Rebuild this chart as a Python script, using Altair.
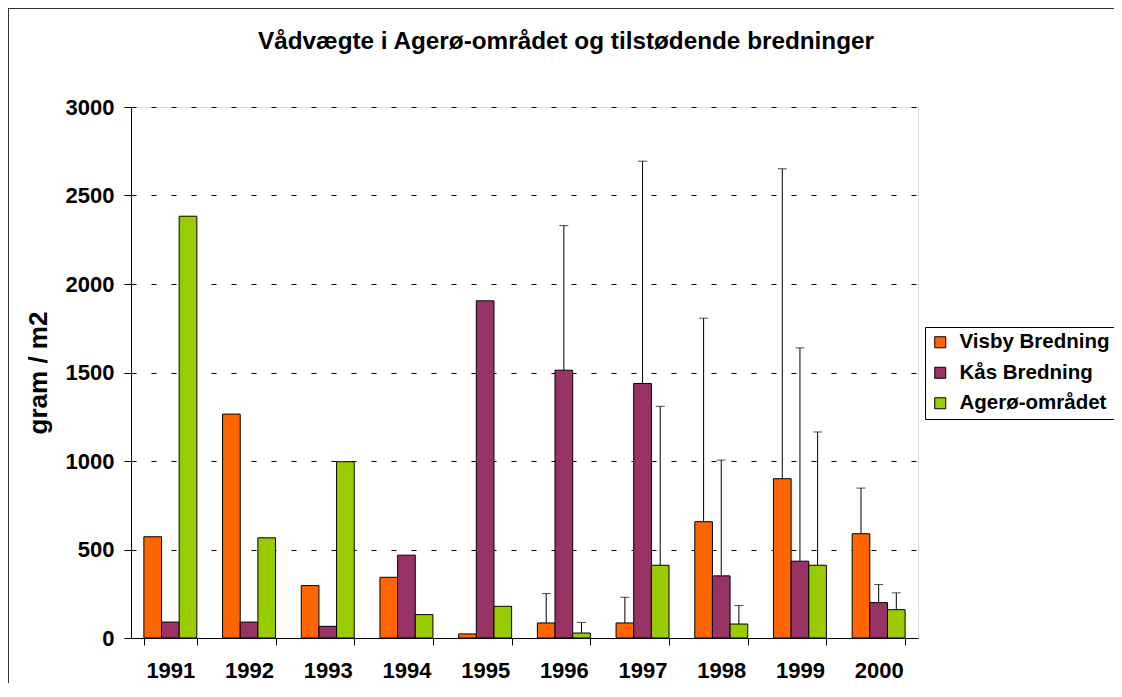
import altair as alt
import pandas as pd

years = ["1991", "1992", "1993", "1994", "1995", "1996", "1997", "1998", "1999", "2000"]
series = ["Visby Bredning", "Kås Bredning", "Agerø-området"]
colors = ["#FF6600", "#993366", "#99CC00"]

visby = [572, 1265, 296, 343, 23, 85, 85, 657, 900, 589]
kas = [90, 90, 66, 468, 1905, 1513, 1438, 351, 434, 200]
agero = [2383, 566, 996, 132, 179, 28, 411, 79, 411, 160]

# upper error amounts (only 1996-2000 have error bars)
visby_sd = [None, None, None, None, None, 166, 145, 1150, 1751, 258]
kas_sd = [None, None, None, None, None, 817, 1256, 654, 1205, 102]
agero_sd = [None, None, None, None, None, 60, 898, 104, 753, 95]

y_ticks = [0, 500, 1000, 1500, 2000, 2500, 3000]
title_text = "Vådvægte i Agerø-området og tilstødende bredninger"

FONT = "Liberation Sans"

rows = []
for s, vals, sds in zip(series, [visby, kas, agero], [visby_sd, kas_sd, agero_sd]):
    for yr, v, sd in zip(years, vals, sds):
        rows.append({"year": yr, "series": s, "value": v,
                     "top": (v + sd) if sd is not None else None})
df = pd.DataFrame(rows)
err = df.dropna(subset=["top"]).copy()

PW, PH = 787, 531
PAD = {"left": 123, "top": 99, "right": 196, "bottom": 45}

x_axis = alt.Axis(
    title=None, labelAngle=0, labelFont=FONT, labelFontSize=22,
    labelFontWeight="bold", labelColor="black", tickBand="extent",
    tickSize=7, tickColor="black", domainColor="black", labelPadding=15,
    grid=False,
)
y_axis = alt.Axis(
    values=y_ticks, title="gram / m2", titleFont=FONT, titleFontSize=26,
    titleFontWeight="bold", titleColor="black", titlePadding=14,
    labelFont=FONT, labelFontSize=22, labelFontWeight="bold",
    labelColor="black", labelPadding=10, tickSize=7, tickColor="black",
    domainColor="black", gridColor="black", gridDash=[5, 15],
    gridWidth=1, format="d",
)
x_scale = alt.Scale(paddingInner=0.327, paddingOuter=0.1635)
y_scale = alt.Scale(domain=[0, 3000], nice=False)
off_scale = alt.Scale(paddingInner=0, paddingOuter=0)

def xenc():
    return alt.X("year:N", sort=years, scale=x_scale, axis=x_axis)

def oenc():
    return alt.XOffset("series:N", sort=series, scale=off_scale)

bars = alt.Chart(df).mark_bar(stroke="black", strokeWidth=1).encode(
    x=xenc(),
    xOffset=oenc(),
    y=alt.Y("value:Q", scale=y_scale, axis=y_axis),
    color=alt.Color(
        "series:N", sort=series,
        scale=alt.Scale(domain=series, range=colors),
        legend=alt.Legend(
            title=None, orient="none", legendX=794, legendY=220,
            strokeColor="black", fillColor="white", padding=5,
            labelFont=FONT, labelFontSize=20.5, labelFontWeight="bold",
            labelColor="black", symbolType="square", symbolSize=121,
            symbolStrokeColor="black", symbolStrokeWidth=1, symbolOpacity=1,
            labelOffset=9, rowPadding=9.5,
        ),
    ),
)

rules = alt.Chart(err).mark_rule(color="black", strokeWidth=1).encode(
    x=xenc(),
    xOffset=oenc(),
    y=alt.Y("value:Q", scale=y_scale, axis=y_axis),
    y2="top:Q",
)

caps = alt.Chart(err).mark_tick(color="black", thickness=1, size=9).encode(
    x=xenc(),
    xOffset=oenc(),
    y=alt.Y("top:Q", scale=y_scale, axis=y_axis),
)

frame = alt.Chart(pd.DataFrame({"a": [0]})).mark_rect(
    fill=None, stroke="#333333", strokeWidth=2, clip=False
).encode(
    x=alt.value(-PAD["left"]), x2=alt.value(PW + PAD["right"] + 20),
    y=alt.value(-PAD["top"]), y2=alt.value(PH + PAD["bottom"] + 20),
)

title = alt.Chart(pd.DataFrame({"t": [title_text]})).mark_text(
    font=FONT, fontSize=24.3, fontWeight="bold", color="black",
    align="center", baseline="alphabetic",
).encode(
    text="t:N",
    x=alt.value(435), y=alt.value(-58),
)

chart = alt.layer(bars, rules, caps, frame, title).properties(
    width=PW, height=PH,
    padding=PAD,
    autosize=alt.AutoSizeParams(type="none"),
).configure_view(
    stroke="#808080", strokeWidth=1
).configure(background="white")

chart.save("out.html", embed_options={"renderer": "svg", "actions": False})
